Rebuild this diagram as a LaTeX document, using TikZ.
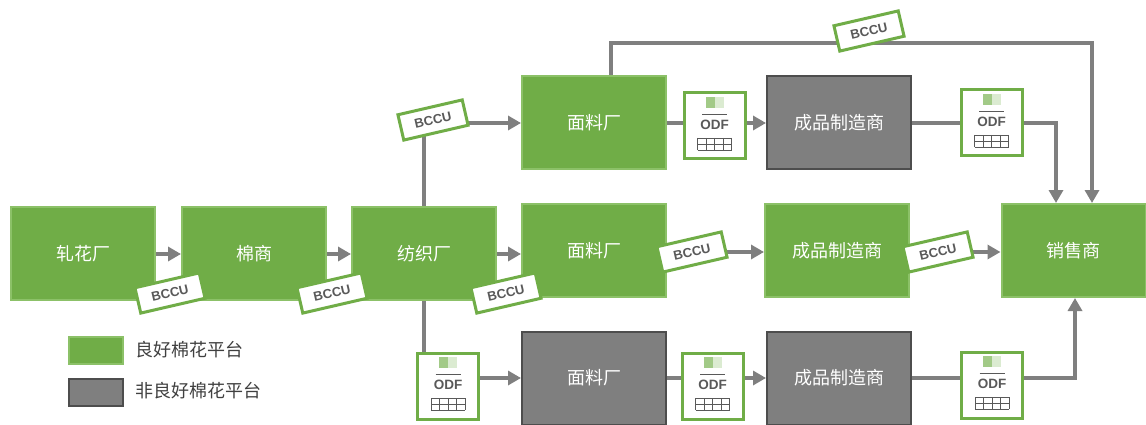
\documentclass[tikz,border=0pt]{standalone}
\usepackage{fontspec}
\setmainfont{Liberation Sans}
\newfontfamily\cjk{Noto Sans CJK SC}
\usetikzlibrary{arrows.meta,backgrounds}
\definecolor{bcigreen}{HTML}{70AD47}
\definecolor{bciedge}{HTML}{8CC168}
\definecolor{othergrey}{HTML}{7F7F7F}
\definecolor{otheredge}{HTML}{4D4D4D}
\definecolor{tagtext}{HTML}{595959}
\tikzset{
	goodbox/.style={draw=bciedge, fill=bcigreen, line width=2pt, minimum width=144pt, minimum height=93pt, inner sep=0pt, text=white, font=\fontsize{18}{20}\selectfont\cjk},
	otherbox/.style={goodbox, draw=otheredge, fill=othergrey},
	bcctag/.style={draw=bcigreen, fill=white, line width=3pt, minimum width=66pt, minimum height=26pt, inner sep=0pt, rotate=13, text=tagtext, font=\fontsize{13}{14}\selectfont\bfseries},
	odfbox/.style={draw=bcigreen, fill=white, line width=3pt, minimum width=61pt, minimum height=66pt, inner sep=0pt},
	flow/.style={draw=othergrey, line width=4.5pt},
	flowto/.style={flow, -{Triangle[length=13pt,width=14pt]}},
	legendtext/.style={anchor=west, inner sep=0pt, text=black!75, font=\fontsize{18}{20}\selectfont\cjk}
}
\newcommand{\odfnode}[3]{
	\node [odfbox] (#1) at (#2,#3) {};
	\begin{scope}[shift={(#1)}]
		\fill [bcigreen!65] (-9,-29) rectangle (0,-18);
		\fill [bcigreen!25] (0,-29) rectangle (9,-18);
		\draw [tagtext, line width=.7pt] (-12.5,-12) -- (12.5,-12);
		\node [text=tagtext, font=\fontsize{13.5}{14}\selectfont\bfseries] (#1text) at (0,-1) {ODF};
		\foreach \gx in {-17,-8.5,0,8.5,17}
			\draw [tagtext, line width=.5pt] (\gx,12) -- (\gx,24);
		\foreach \gy in {12,18,24}
			\draw [tagtext, line width=.5pt] (-17,\gy) -- (17,\gy);
	\end{scope}
}

\begin{document}
\begin{tikzpicture}[x=1pt, y=-1pt]
	\useasboundingbox (0,0) rectangle (1146,425);
	% main chain
	\node [goodbox] (gin) at (83,253.5) {轧花厂};
	\node [goodbox] (trader) at (254,253.5) {棉商};
	\node [goodbox] (spinner) at (424,253.5) {纺织厂};
	\node [goodbox] (fabricA) at (594,123) {面料厂};
	\node [goodbox] (fabricB) at (594,250.5) {面料厂};
	\node [otherbox] (fabricC) at (594,378) {面料厂};
	\node [otherbox] (makerA) at (839,123) {成品制造商};
	\node [goodbox] (makerB) at (837,250.5) {成品制造商};
	\node [otherbox] (makerC) at (839,378) {成品制造商};
	\node [goodbox] (retail) at (1073.5,250.5) {销售商};
	% tags
	\node [bcctag] (tagGin) at (170,293) {BCCU};
	\node [bcctag] (tagTrader) at (332,293) {BCCU};
	\node [bcctag] (tagSpinner) at (506,293) {BCCU};
	\node [bcctag] (tagUp) at (433,120) {BCCU};
	\node [bcctag] (tagFabric) at (692,252) {BCCU};
	\node [bcctag] (tagMaker) at (938,252) {BCCU};
	\node [bcctag] (tagTop) at (869,31) {BCCU};
	\odfnode{odfA}{714.5}{126}
	\odfnode{odfB}{991.5}{123}
	\odfnode{odfC}{448}{386}
	\odfnode{odfD}{712.5}{386}
	\odfnode{odfE}{992}{385}
	% connectors
	\begin{scope}[on background layer]
		\coordinate (topBend) at (611,43);
		\coordinate (topDrop) at (1092,43);
		\coordinate (midBend) at (1056,123);
		\coordinate (lowBend) at (1075,378);
		\draw [flowto] (gin.east |- 0,254) -- (trader.west |- 0,254);
		\draw [flowto] (trader.east |- 0,254) -- (spinner.west |- 0,254);
		\draw [flowto] (spinner.east |- 0,254) -- (fabricB.west |- 0,254);
		\draw [flow] (spinner.north -| 424,0) -- (424,120);
		\draw [flowto] (tagUp |- fabricA.west) -- (fabricA.west);
		\draw [flowto] (fabricA.north -| topBend) -- (topBend) -- (topDrop) -- (topDrop |- retail.north);
		\draw [flowto] (fabricA) -- (makerA);
		\draw [flowto] (makerA.east) -- (midBend) -- (midBend |- retail.north);
		\draw [flowto] (fabricB.east |- 0,252) -- (makerB.west |- 0,252);
		\draw [flowto] (makerB.east |- 0,252) -- (retail.west |- 0,252);
		\draw [flowto] (spinner.south -| 424,0) -- (424,378) -- (fabricC.west);
		\draw [flowto] (fabricC) -- (makerC);
		\draw [flowto] (makerC.east) -- (lowBend) -- (lowBend |- retail.south);
	\end{scope}
	% legend
	\node [goodbox, minimum width=54pt, minimum height=27pt] (keyGood) at (96,350.5) {};
	\node [otherbox, minimum width=54pt, minimum height=27pt] (keyOther) at (96,392.5) {};
	\node [legendtext] (keyGoodText) at (135,350) {良好棉花平台};
	\node [legendtext] (keyOtherText) at (135,391) {非良好棉花平台};
\end{tikzpicture}
\end{document}
